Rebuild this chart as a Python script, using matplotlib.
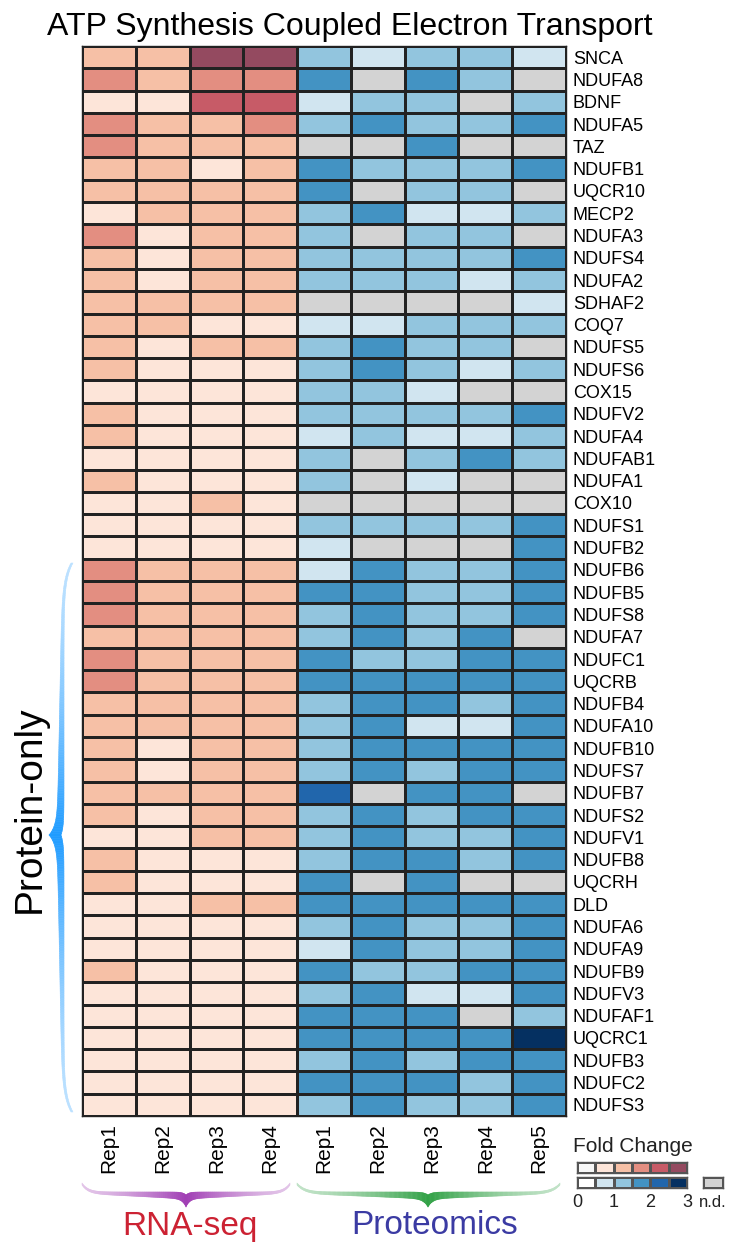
import numpy as np
import matplotlib
matplotlib.use('Agg')
import matplotlib.pyplot as plt
from matplotlib.colors import ListedColormap, BoundaryNorm, to_rgb
from matplotlib.collections import PolyCollection

plt.rcParams['font.family'] = ['Liberation Sans', 'DejaVu Sans']

genes = ['SNCA', 'NDUFA8', 'BDNF', 'NDUFA5', 'TAZ', 'NDUFB1', 'UQCR10', 'MECP2',
         'NDUFA3', 'NDUFS4', 'NDUFA2', 'SDHAF2', 'COQ7', 'NDUFS5', 'NDUFS6', 'COX15',
         'NDUFV2', 'NDUFA4', 'NDUFAB1', 'NDUFA1', 'COX10', 'NDUFS1', 'NDUFB2', 'NDUFB6',
         'NDUFB5', 'NDUFS8', 'NDUFA7', 'NDUFC1', 'UQCRB', 'NDUFB4', 'NDUFA10', 'NDUFB10',
         'NDUFS7', 'NDUFB7', 'NDUFS2', 'NDUFV1', 'NDUFB8', 'UQCRH', 'DLD', 'NDUFA6',
         'NDUFA9', 'NDUFB9', 'NDUFV3', 'NDUFAF1', 'UQCRC1', 'NDUFB3', 'NDUFC2', 'NDUFS3']

rna_reps = ['Rep1', 'Rep2', 'Rep3', 'Rep4']
prot_reps = ['Rep1', 'Rep2', 'Rep3', 'Rep4', 'Rep5']

nd = np.nan
# fold change (binned), one row per gene
rna_fc = [
    [1.25, 1.25, 2.75, 2.75], [1.75, 1.25, 1.75, 1.75], [0.75, 0.75, 2.25, 2.25],
    [1.75, 1.25, 1.25, 1.75], [1.75, 1.25, 1.25, 1.25], [1.25, 1.25, 0.75, 1.25],
    [1.25, 1.25, 1.25, 1.25], [0.75, 1.25, 1.25, 1.25], [1.75, 0.75, 1.25, 1.25],
    [1.25, 0.75, 1.25, 1.25], [1.25, 0.75, 1.25, 1.25], [1.25, 1.25, 1.25, 1.25],
    [1.25, 1.25, 0.75, 0.75], [1.25, 0.75, 1.25, 1.25], [1.25, 0.75, 0.75, 0.75],
    [0.75, 0.75, 0.75, 0.75], [1.25, 0.75, 0.75, 0.75], [1.25, 0.75, 0.75, 0.75],
    [0.75, 0.75, 0.75, 0.75], [1.25, 0.75, 0.75, 0.75], [0.75, 0.75, 1.25, 0.75],
    [0.75, 0.75, 0.75, 0.75], [0.75, 0.75, 0.75, 0.75], [1.75, 1.25, 1.25, 1.25],
    [1.75, 1.25, 1.25, 1.25], [1.75, 1.25, 1.25, 1.25], [1.25, 1.25, 1.25, 1.25],
    [1.75, 1.25, 1.25, 1.25], [1.75, 1.25, 1.25, 1.25], [1.25, 1.25, 1.25, 1.25],
    [1.25, 1.25, 1.25, 1.25], [1.25, 0.75, 1.25, 1.25], [1.25, 0.75, 1.25, 1.25],
    [1.25, 1.25, 1.25, 1.25], [1.25, 0.75, 1.25, 1.25], [0.75, 0.75, 1.25, 1.25],
    [1.25, 0.75, 0.75, 0.75], [1.25, 0.75, 0.75, 0.75], [0.75, 0.75, 1.25, 1.25],
    [0.75, 0.75, 0.75, 0.75], [0.75, 0.75, 0.75, 0.75], [1.25, 0.75, 0.75, 0.75],
    [0.75, 0.75, 0.75, 0.75], [0.75, 0.75, 0.75, 0.75], [0.75, 0.75, 0.75, 0.75],
    [0.75, 0.75, 0.75, 0.75], [0.75, 0.75, 0.75, 0.75], [0.75, 0.75, 0.75, 0.75],
]

prot_fc = [
    [1.25, 0.75, 1.25, 1.25, 0.75], [1.75, nd, 1.75, 1.25, nd], [0.75, 1.25, 1.25, nd, 1.25],
    [1.25, 1.75, 1.25, 1.25, 1.75], [nd, nd, 1.75, nd, nd], [1.75, 1.25, 1.25, 1.25, 1.75],
    [1.75, nd, 1.25, 1.25, nd], [1.25, 1.75, 0.75, 0.75, 1.25], [1.25, nd, 1.25, 1.25, nd],
    [1.25, 1.25, 1.25, 1.25, 1.75], [1.25, 1.25, 1.25, 0.75, 1.25], [nd, nd, nd, nd, 0.75],
    [0.75, 0.75, 1.25, 1.25, 1.25], [1.25, 1.75, 1.25, 1.25, nd], [1.25, 1.75, 1.25, 0.75, 1.25],
    [1.25, 1.25, 0.75, nd, nd], [1.25, 1.25, 1.25, 1.25, 1.75], [0.75, 1.25, 0.75, 0.75, 1.25],
    [1.25, nd, 1.25, 1.75, 1.25], [1.25, nd, 0.75, nd, nd], [nd, nd, nd, nd, nd],
    [1.25, 1.25, 1.25, 1.25, 1.75], [0.75, nd, nd, nd, 1.75], [0.75, 1.75, 1.25, 1.25, 1.75],
    [1.75, 1.75, 1.25, 1.25, 1.75], [1.25, 1.75, 1.25, 1.25, 1.75], [1.25, 1.75, 1.25, 1.75, nd],
    [1.75, 1.25, 1.25, 1.75, 1.75], [1.75, 1.75, 1.75, 1.75, 1.75], [1.25, 1.75, 1.75, 1.25, 1.75],
    [1.25, 1.75, 0.75, 0.75, 1.75], [1.25, 1.75, 1.75, 1.75, 1.75], [1.25, 1.75, 1.25, 1.75, 1.75],
    [2.25, nd, 1.75, 1.75, nd], [1.25, 1.75, 1.25, 1.75, 1.75], [1.25, 1.75, 1.25, 1.25, 1.75],
    [1.25, 1.75, 1.75, 1.25, 1.75], [1.75, nd, 1.75, nd, nd], [1.75, 1.75, 1.75, 1.75, 1.75],
    [1.25, 1.75, 1.25, 1.25, 1.75], [0.75, 1.75, 1.25, 1.25, 1.75], [1.75, 1.25, 1.25, 1.75, 1.75],
    [1.25, 1.75, 0.75, 0.75, 1.75], [1.75, 1.75, 1.75, nd, 1.25], [1.75, 1.75, 1.75, 1.75, 2.75],
    [1.25, 1.75, 1.25, 1.75, 1.75], [1.75, 1.75, 1.75, 1.25, 1.75], [1.25, 1.75, 1.25, 1.25, 1.75],
]

legend_ticks = [0, 1, 2, 3]

rna_colors = ['#f7f7f7', '#fde5d9', '#f6c0a6', '#e38e81', '#c75b67', '#944a60']
prot_colors = ['#ffffff', '#d1e5f0', '#92c5de', '#4393c3', '#2166ac', '#053061']
nd_color = '#d3d3d3'
bounds = [0, 0.5, 1, 1.5, 2, 2.5, 3]

rna_cmap = ListedColormap(rna_colors)
rna_cmap.set_bad(nd_color)
prot_cmap = ListedColormap(prot_colors)
prot_cmap.set_bad(nd_color)
norm = BoundaryNorm(bounds, 6)

W, H = 738, 1243
fig = plt.figure(figsize=(W / 100, H / 100), dpi=100)

# ---- heatmap ----
ax = fig.add_axes([82 / W, 1 - 1116 / H, 484 / W, 1070 / H])
n_rna = len(rna_reps)
n_prot = len(prot_reps)
n_rows = len(genes)
rna_arr = np.ma.masked_invalid(np.array(rna_fc))
prot_arr = np.ma.masked_invalid(np.array(prot_fc))
yedges = np.arange(n_rows + 1)
ax.pcolormesh(np.arange(n_rna + 1), yedges, rna_arr, cmap=rna_cmap, norm=norm,
              edgecolors='#222222', linewidth=0.85)
ax.pcolormesh(np.arange(n_rna, n_rna + n_prot + 1), yedges, prot_arr, cmap=prot_cmap,
              norm=norm, edgecolors='#222222', linewidth=0.85)
ax.set_xlim(0, n_rna + n_prot)
ax.set_ylim(n_rows, 0)
ax.yaxis.tick_right()
ax.set_yticks(np.arange(n_rows) + 0.5)
ax.set_yticklabels(genes, fontsize=13)
ax.set_xticks(np.arange(n_rna + n_prot) + 0.5)
ax.set_xticklabels(rna_reps + prot_reps, rotation=90, fontsize=15)
ax.tick_params(length=0, pad=5)
for s in ax.spines.values():
    s.set_color('#222222')
    s.set_linewidth(1.0)

fig.text(350 / W, 1 - 35 / H, 'ATP Synthesis Coupled Electron Transport',
         fontsize=23, ha='center', va='baseline')

# ---- braces on an overlay in pixel coordinates ----
ov = fig.add_axes([0, 0, 1, 1], zorder=-1)
ov.set_xlim(0, W)
ov.set_ylim(H, 0)
ov.axis('off')


def brace(a0, a1, tip, base, color, vertical=False):
    rgb = np.array(to_rgb(color))
    polys, cols = [], []
    for start, end in [(a0, tip), (a1, tip)]:
        s = np.linspace(0, 1, 160)
        pos = start + (end - start) * s
        upper = 9 * (1 - np.exp(-s / 0.06))
        thick = 2 + 5 * s ** 1.2
        spike = 8 * np.exp(-(1 - s) / 0.035)
        lower = upper + thick + spike
        upper = upper + 3 * np.exp(-(1 - s) / 0.03)
        for i in range(len(s) - 1):
            if vertical:
                q = [(base - upper[i], pos[i]), (base - upper[i + 1], pos[i + 1]),
                     (base - lower[i + 1], pos[i + 1]), (base - lower[i], pos[i])]
            else:
                q = [(pos[i], base + upper[i]), (pos[i + 1], base + upper[i + 1]),
                     (pos[i + 1], base + lower[i + 1]), (pos[i], base + lower[i])]
            polys.append(q)
            w = 0.3 + 0.7 * s[i] ** 1.5
            cols.append(tuple(1 - w * (1 - rgb)))
    ov.add_collection(PolyCollection(polys, facecolors=cols, edgecolors=cols, linewidths=0.4))


brace(82, 290, 186, 1183, '#a03cb4')
brace(297, 560, 428, 1183, '#2ea043')
brace(563, 1112, 835, 73, '#1e9bff', vertical=True)

fig.text(190 / W, 1 - 1226 / H, 'RNA-seq', color='#cc2233', fontsize=24, ha='center', va='center')
fig.text(435 / W, 1 - 1226 / H, 'Proteomics', color='#3b3ba3', fontsize=24, ha='center', va='center')
fig.text(30 / W, 1 - 809 / H, 'Protein-only', rotation=90, fontsize=28, ha='center', va='center')

# ---- legend ----
fig.text(573 / W, 1 - 1152 / H, 'Fold Change', fontsize=15, color='#222222', ha='left', va='baseline')
mids = np.array([[0.25, 0.75, 1.25, 1.75, 2.25, 2.75]])
lax1 = fig.add_axes([577 / W, 1 - 1173 / H, 110 / W, 11 / H])
lax1.pcolormesh(mids, cmap=rna_cmap, norm=norm, edgecolors='#555555', linewidth=1.0)
lax2 = fig.add_axes([577 / W, 1 - 1188 / H, 110 / W, 11 / H])
lax2.pcolormesh(mids, cmap=prot_cmap, norm=norm, edgecolors='#555555', linewidth=1.0)
lax3 = fig.add_axes([703 / W, 1 - 1188 / H, 20 / W, 11 / H])
lax3.pcolormesh([[np.nan]], cmap=prot_cmap, norm=norm, edgecolors='#555555', linewidth=1.0)
lax3.set_facecolor(nd_color)
for la in (lax1, lax2, lax3):
    la.set_xticks([])
    la.set_yticks([])
    for s in la.spines.values():
        s.set_color('#555555')
        s.set_linewidth(1.0)
lax2.set_xticks([t * 2 for t in legend_ticks])
lax2.set_xticklabels([str(t) for t in legend_ticks], fontsize=13, color='#222222')
lax2.tick_params(length=0, pad=4)
lax2.set_xlim(0, 6)
lax3.set_xticks([0.5])
lax3.set_xticklabels(['n.d.'], fontsize=12, color='#222222')
lax3.tick_params(length=0, pad=5)

fig.savefig('out.png', dpi=100)
